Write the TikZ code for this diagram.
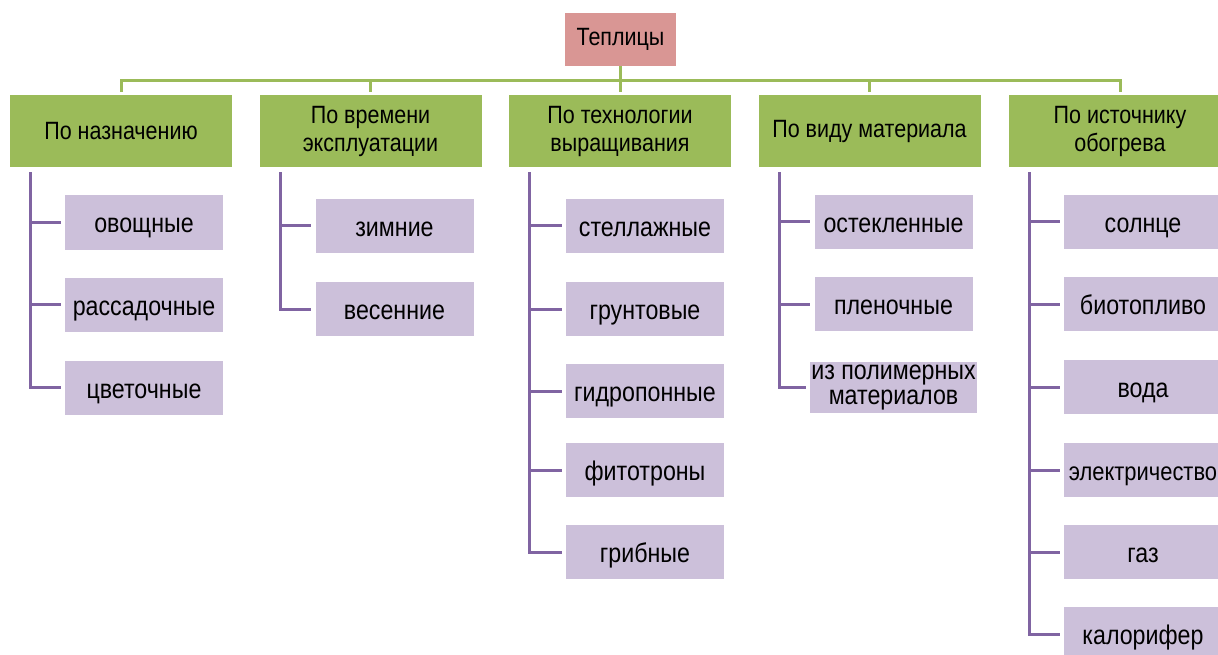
\documentclass[tikz,border=0pt]{standalone}
\usepackage{fontspec}
\setmainfont[FakeStretch=0.86]{Liberation Sans}
\definecolor{rootfill}{HTML}{D99694}
\definecolor{catfill}{HTML}{9BBB59}
\definecolor{itemfill}{HTML}{CCC0DA}
\definecolor{itemline}{HTML}{8064A2}
\tikzset{
  rootbox/.style={fill=rootfill, minimum width=111pt, minimum height=53pt, inner sep=2pt,
    font=\fontsize{25}{28}\selectfont},
  catbox/.style={fill=catfill, minimum width=222pt, minimum height=72pt, align=center, inner sep=2pt,
    font=\fontsize{25}{28}\selectfont},
  itembox/.style={fill=itemfill, minimum width=158pt, minimum height=54pt, align=center, inner sep=1pt,
    text height=25pt, text depth=4pt, font=\fontsize{27}{25}\selectfont},
  catlink/.style={catfill, line width=3pt, shorten >=3pt},
  itemlink/.style={itemline, line width=3pt, shorten >=4pt},
}

\begin{document}
\begin{tikzpicture}[x=1pt, y=-1pt]
\clip (0,0) rectangle (1218,655);

\node[rootbox] (root) at (620.5,39.5) {Теплицы};

\foreach \i/\x/\name in {1/121/{По назначению}, 2/370.5/{По времени\\эксплуатации}, 3/620/{По технологии\\выращивания}, 4/869.5/{По виду материала}, 5/1120/{По источнику\\обогрева}} {
    \node[catbox] (c\i) at (\x,131) {\name};
    \draw[catlink] (root.south) -- ++(0,14) -| (c\i.north);
    \coordinate (t\i) at ([xshift=21pt,yshift=-5pt]c\i.south west);
}

\foreach \j/\y/\name in {1/222.5/овощные, 2/304.5/рассадочные, 3/387.5/цветочные} {
    \node[itembox] (c1-\j) at (144,\y) {\name};
    \draw[itemlink] (t1) |- (c1-\j.west);
}

\foreach \j/\y/\name in {1/226/зимние, 2/309/весенние} {
    \node[itembox] (c2-\j) at (394.5,\y) {\name};
    \draw[itemlink] (t2) |- (c2-\j.west);
}

\foreach \j/\y/\name in {1/226/стеллажные, 2/309/грунтовые, 3/391/гидропонные, 4/470/фитотроны, 5/552/грибные} {
    \node[itembox] (c3-\j) at (645,\y) {\name};
    \draw[itemlink] (t3) |- (c3-\j.west);
}

\foreach \j/\y/\name in {1/222/остекленные, 2/304/пленочные} {
    \node[itembox] (c4-\j) at (893.5,\y) {\name};
    \draw[itemlink] (t4) |- (c4-\j.west);
}
\node[itembox, text height=, text depth=, minimum height=51pt] (c4-3) at (893.5,387.5) {из полимерных\\материалов};
\draw[itemlink] (t4) |- (c4-3.west);

\foreach \j/\y/\name in {1/222/солнце, 2/304/биотопливо, 3/387/вода, 4/470/{\fontsize{25.5}{25}\selectfont электричество}, 5/552/газ, 6/634/калорифер} {
    \node[itembox] (c5-\j) at (1143,\y) {\name};
    \draw[itemlink] (t5) |- (c5-\j.west);
}

\end{tikzpicture}
\end{document}
